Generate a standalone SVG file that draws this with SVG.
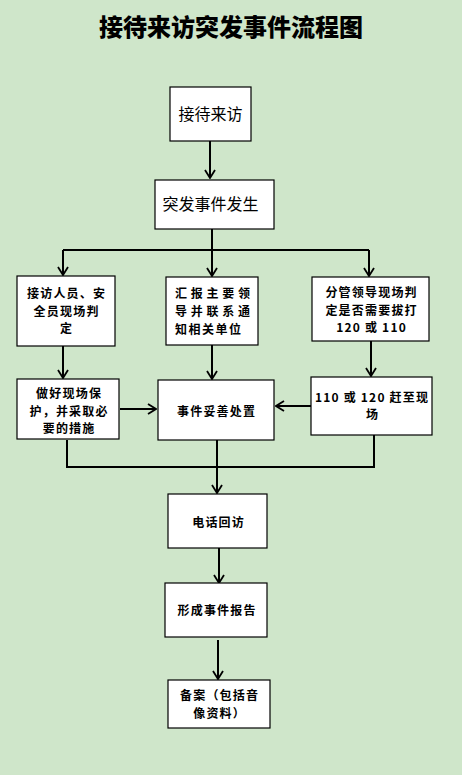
<svg xmlns="http://www.w3.org/2000/svg" width="462" height="775" viewBox="0 0 462 775">
<defs>
<style>
.box{fill:#ffffff;stroke:#000000;stroke-width:1.2}
.ln{fill:none;stroke:#000000;stroke-width:2}
.t{font-family:"Noto Sans CJK SC","Liberation Sans",sans-serif;fill:#000000;text-anchor:middle}
.b{font-size:12px;font-weight:bold;letter-spacing:1.2px}
.r{font-size:16px}
</style>
<marker id="arr" viewBox="-1 -6 10 12" refX="8" refY="0" markerWidth="10" markerHeight="12" markerUnits="userSpaceOnUse" orient="auto">
<path d="M0,-5 L8,0 L0,5" fill="none" stroke="#000000" stroke-width="1.8"/>
</marker>
</defs>
<rect x="0" y="0" width="462" height="775" fill="#CFE6CA"/>
<text class="t" x="231" y="36" font-size="24" font-weight="900">接待来访突发事件流程图</text>

<g id="connectors">
<line class="ln" x1="210" y1="141" x2="210" y2="178" marker-end="url(#arr)"/>
<line class="ln" x1="212" y1="229" x2="212" y2="250"/>
<line class="ln" x1="63" y1="250" x2="369" y2="250"/>
<line class="ln" x1="63" y1="250" x2="63" y2="275" marker-end="url(#arr)"/>
<line class="ln" x1="212" y1="250" x2="212" y2="276" marker-end="url(#arr)"/>
<line class="ln" x1="369" y1="250" x2="369" y2="276" marker-end="url(#arr)"/>
<line class="ln" x1="63" y1="346" x2="63" y2="378" marker-end="url(#arr)"/>
<line class="ln" x1="212" y1="345" x2="212" y2="379" marker-end="url(#arr)"/>
<line class="ln" x1="371" y1="341" x2="371" y2="376" marker-end="url(#arr)"/>
<line class="ln" x1="120" y1="409" x2="156" y2="409" marker-end="url(#arr)"/>
<line class="ln" x1="311" y1="406" x2="276" y2="406" marker-end="url(#arr)"/>
<polyline class="ln" points="67,440 67,467 374,467 374,435"/>
<line class="ln" x1="217" y1="440" x2="217" y2="493" marker-end="url(#arr)"/>
<line class="ln" x1="219" y1="548" x2="219" y2="583" marker-end="url(#arr)"/>
<line class="ln" x1="218" y1="640" x2="218" y2="679" marker-end="url(#arr)"/>
</g>

<g id="n1">
<rect class="box" x="170" y="87" width="81" height="54"/>
<text class="t r" x="210.5" y="120" font-size="15">接待来访</text>
</g>
<g id="n2">
<rect class="box" x="155" y="180" width="119" height="49"/>
<text class="t r" x="210.5" y="210">突发事件发生</text>
</g>
<g id="n3">
<rect class="box" x="17" y="276" width="98" height="70"/>
<text class="t b" x="66.6" y="298">接访人员、安</text>
<text class="t b" x="66.6" y="316">全员现场判</text>
<text class="t b" x="66.6" y="333">定</text>
</g>
<g id="n4">
<rect class="box" x="166" y="277" width="92" height="68"/>
<text class="t b" x="175" y="298" style="text-anchor:start;letter-spacing:0" textLength="75" lengthAdjust="spacing">汇报主要领</text>
<text class="t b" x="175" y="316" style="text-anchor:start;letter-spacing:0" textLength="75" lengthAdjust="spacing">导并联系通</text>
<text class="t b" x="175" y="334" style="text-anchor:start;letter-spacing:0" textLength="66" lengthAdjust="spacing">知相关单位</text>
</g>
<g id="n5">
<rect class="box" x="312" y="277" width="117" height="64"/>
<text class="t b" x="371.6" y="297">分管领导现场判</text>
<text class="t b" x="371.6" y="315">定是否需要拔打</text>
<text class="t b" x="371.6" y="332">120 或 110</text>
</g>
<g id="n6">
<rect class="box" x="17" y="379" width="102" height="60"/>
<text class="t b" x="69.1" y="398">做好现场保</text>
<text class="t b" x="69.1" y="416">护，并采取必</text>
<text class="t b" x="69.1" y="433">要的措施</text>
</g>
<g id="n7">
<rect class="box" x="158" y="380" width="116" height="60"/>
<text class="t b" x="216.6" y="416">事件妥善处置</text>
</g>
<g id="n8">
<rect class="box" x="311" y="377" width="121" height="58"/>
<text class="t b" x="372.1" y="402">110 或 120 赶至现</text>
<text class="t b" x="372.6" y="419">场</text>
</g>
<g id="n9">
<rect class="box" x="168" y="494" width="99" height="54"/>
<text class="t b" x="218.6" y="527">电话回访</text>
</g>
<g id="n10">
<rect class="box" x="165" y="583" width="102" height="54"/>
<text class="t b" x="217.1" y="615">形成事件报告</text>
</g>
<g id="n11">
<rect class="box" x="168" y="680" width="102" height="48"/>
<text class="t b" x="219.6" y="700">备案（包括音</text>
<text class="t b" x="219.6" y="718">像资料）</text>
</g>
</svg>
